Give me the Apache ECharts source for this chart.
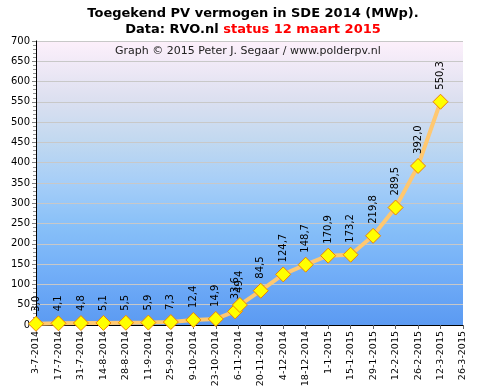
<!DOCTYPE html>
<html>
<head>
<meta charset="utf-8">
<script src="https://cdn.jsdelivr.net/npm/echarts@6/dist/echarts.min.js"></script>
<style>html,body{margin:0;padding:0;background:#fff}#c{width:481px;height:391px}</style>
</head>
<body>
<div id="c"></div>
<script>
var dates = ['3-7-2014','17-7-2014','31-7-2014','14-8-2014','28-8-2014','11-9-2014','25-9-2014','9-10-2014','23-10-2014','4-11-2014','7-11-2014','20-11-2014','4-12-2014','18-12-2014','1-1-2015','15-1-2015','29-1-2015','12-2-2015','26-2-2015','12-3-2015'];
var values = [3.0,4.1,4.8,5.1,5.5,5.9,7.3,12.4,14.9,33.6,49.4,84.5,124.7,148.7,170.9,173.2,219.8,289.5,392.0,550.3];
var axisStart = '3-7-2014';
var axisEnd = '26-3-2015';
var tickDays = 14;
var yTicks = [0,50,100,150,200,250,300,350,400,450,500,550,600,650,700];

function parseD(s){var p=s.split('-');return Date.UTC(+p[2],+p[1]-1,+p[0]);}
var t0 = parseD(axisStart);
function dayOff(s){return Math.round((parseD(s)-t0)/86400000);}
function fmtDay(v){var d=new Date(t0+v*86400000);return d.getUTCDate()+'-'+(d.getUTCMonth()+1)+'-'+d.getUTCFullYear();}

var data = dates.map(function(d,i){return [dayOff(d), values[i]];});
var FONT = 'DejaVu Sans';

var chart = echarts.init(document.getElementById('c'));
chart.setOption({
  animation:false,
  title:{
    left:248, textAlign:'center', top:2, itemGap:3,
    text:'Toegekend PV vermogen in SDE 2014 (MWp).',
    textStyle:{fontFamily:FONT,fontSize:13,fontWeight:'bold',color:'#000'},
    subtext:'{a|Data: RVO.nl }{b|status 12 maart 2015}',
    subtextStyle:{rich:{
      a:{fontFamily:FONT,fontSize:13,fontWeight:'bold',color:'#000'},
      b:{fontFamily:FONT,fontSize:13,fontWeight:'bold',color:'#ff0000'}
    }}
  },
  graphic:[{type:'text',left:115,top:46,style:{text:'Graph \u00a9 2015 Peter J. Segaar / www.polderpv.nl',font:'11px "DejaVu Sans"',fill:'#222'}}],
  grid:{left:36,right:18,top:41,bottom:66,show:true,borderWidth:0,
    backgroundColor:new echarts.graphic.LinearGradient(0,0,0,1,[
      {offset:0,color:'#fdf0fb'},
      {offset:0.2,color:'#dde0f0'},
      {offset:0.36,color:'#c0d8f0'},
      {offset:0.5,color:'#a6cef8'},
      {offset:0.65,color:'#88c0f8'},
      {offset:0.8,color:'#74b0f8'},
      {offset:1,color:'#5b9af2'}
    ])},
  xAxis:[{
    type:'value', min:0, max:dayOff(axisEnd), interval:tickDays,
    axisLine:{show:true,lineStyle:{color:'#b0c8e8'}},
    axisTick:{show:true,length:4,lineStyle:{color:'#606060'}},
    splitLine:{show:false},
    axisLabel:{rotate:90,fontFamily:FONT,fontSize:9.5,color:'#000',margin:6,formatter:function(v){return fmtDay(v);}}
  },{
    type:'value', position:'top', min:0, max:dayOff(axisEnd),
    axisLine:{show:true,lineStyle:{color:'#000',width:1}},
    axisTick:{show:false},axisLabel:{show:false},splitLine:{show:false}
  }],
  yAxis:[{
    type:'value', min:yTicks[0], max:yTicks[yTicks.length-1], interval:50,
    axisLine:{show:true,lineStyle:{color:'#909090'}},
    axisTick:{show:true,length:4,lineStyle:{color:'#808080'}},
    minorTick:{show:true,splitNumber:5,length:3,lineStyle:{color:'#909090'}},
    splitLine:{show:true,lineStyle:{color:'#c8c8c8'}},
    axisLabel:{fontFamily:FONT,fontSize:10,color:'#000',margin:6}
  },{
    type:'value', position:'right', min:0, max:700,
    axisLine:{show:true,lineStyle:{color:'#000',width:1}},
    axisTick:{show:false},axisLabel:{show:false},splitLine:{show:false}
  }],
  series:[{
    type:'line', data:data, symbol:'diamond', symbolSize:15, clip:false,
    lineStyle:{color:'#ffc870',width:4},
    itemStyle:{color:'#ffff00',borderColor:'#f08000',borderWidth:1},
    label:{show:true,position:'top',rotate:90,align:'left',verticalAlign:'middle',distance:4,
      fontFamily:FONT,fontSize:10,color:'#000',
      formatter:function(p){return p.value[1].toFixed(1).replace('.',',');}}
  }]
});
</script>
</body>
</html>
